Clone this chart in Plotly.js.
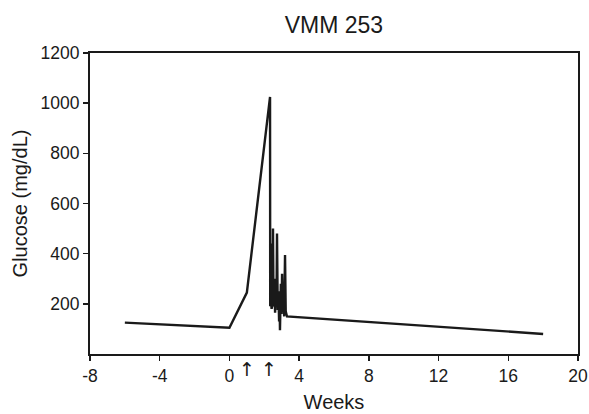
<!DOCTYPE html>
<html>
<head>
<meta charset="utf-8">
<script src="https://cdn.plot.ly/plotly-3.0.1.min.js"></script>
<style>html,body{margin:0;padding:0;background:#fff;}#chart{width:589px;height:414px;}</style>
</head>
<body>
<div id="chart"></div>
<script>
const weeks = [-6, 0, 1, 2.33, 2.34, 2.36, 2.38, 2.42, 2.48, 2.5, 2.53, 2.58, 2.62, 2.66, 2.7, 2.73, 2.77, 2.81, 2.85, 2.88, 2.9, 2.95, 2.99, 3.02, 3.06, 3.1, 3.14, 3.19, 3.23, 3.3, 18];
const glucose = [125, 105, 245, 1025, 190, 440, 215, 180, 200, 500, 190, 300, 165, 260, 200, 480, 175, 250, 130, 210, 95, 280, 160, 320, 190, 230, 150, 395, 170, 150, 80];
const arrowWeeks = [1, 2.27];
const arrowLabels = ["↑", "↑"];
const xTicks = [-8, -4, 0, 4, 8, 12, 16, 20];
const yTicks = [200, 400, 600, 800, 1000, 1200];

const font = "Liberation Sans, Arial, sans-serif";
const ink = "#1a1a1a";
const trace = {
  x: weeks, y: glucose, type: "scatter", mode: "lines",
  line: {color: ink, width: 2.4},
  hoverinfo: "skip"
};
const annotations = arrowWeeks.map((w, i) => ({
  x: w, xref: "x", y: -0.005, yref: "paper", yanchor: "top",
  text: arrowLabels[i], showarrow: false,
  font: {family: "DejaVu Sans, sans-serif", size: 19, color: ink}
}));
const layout = {
  width: 589, height: 414,
  margin: {l: 90, r: 11, t: 53, b: 60},
  paper_bgcolor: "#fff", plot_bgcolor: "#fff",
  showlegend: false,
  title: {text: "VMM 253", x: 0.567, xanchor: "center", y: 0.94, yanchor: "middle",
    font: {family: font, size: 23, color: ink}},
  xaxis: {
    range: [-8, 20], tickvals: xTicks, ticktext: xTicks.map(String),
    showgrid: false, zeroline: false,
    showline: true, linecolor: ink, linewidth: 2, mirror: true,
    ticks: "outside", ticklen: 5, tickwidth: 1.5, tickcolor: ink,
    tickfont: {family: font, size: 17.5, color: ink},
    title: {text: "Weeks", font: {family: font, size: 20, color: ink}, standoff: 10}
  },
  yaxis: {
    range: [0, 1200], tickvals: yTicks, ticktext: yTicks.map(String),
    showgrid: false, zeroline: false,
    showline: true, linecolor: ink, linewidth: 2, mirror: true,
    ticks: "outside", ticklen: 5, tickwidth: 1.5, tickcolor: ink,
    tickfont: {family: font, size: 17.5, color: ink},
    title: {text: "Glucose (mg/dL)", font: {family: font, size: 20, color: ink}, standoff: 8}
  },
  annotations: annotations
};
Plotly.newPlot("chart", [trace], layout, {staticPlot: true, displayModeBar: false});
</script>
</body>
</html>
